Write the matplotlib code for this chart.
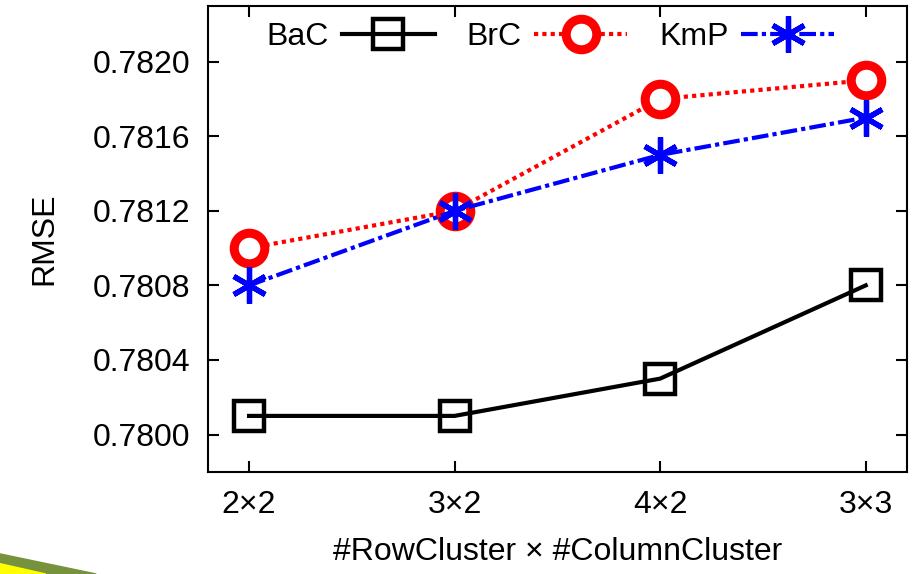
import matplotlib
matplotlib.use("Agg")
import matplotlib.pyplot as plt
from matplotlib.patches import Polygon

plt.rcParams['font.family'] = ['Liberation Sans', 'DejaVu Sans']

categories = ["2\u00d72", "3\u00d72", "4\u00d72", "3\u00d73"]
bac = [0.7801, 0.7801, 0.7803, 0.7808]
brc = [0.7810, 0.7812, 0.7818, 0.7819]
kmp = [0.7808, 0.7812, 0.7815, 0.7817]
yticks = [0.7800, 0.7804, 0.7808, 0.7812, 0.7816, 0.7820]

fig = plt.figure(figsize=(9.16, 5.74), dpi=100)
ax = fig.add_axes([0.227, 0.178, 0.763, 0.812])

x = range(len(categories))
ax.plot(x, bac, color='black', lw=3, ls='-', marker='s', ms=21,
        mfc='none', mec='black', mew=3.2, label='BaC')
ax.plot(x, brc, color='red', lw=3, ls=(0, (1, 1)), marker='o', ms=22,
        mfc='white', mec='red', mew=6.5, label='BrC')
ax.plot(x, kmp, color='blue', lw=3, ls=(0, (4, 1, 1, 1)), marker=(6, 2, 0),
        ms=26, mec='blue', mew=3.8, label='KmP')

ax.set_xlim(-0.2, 3.2)
ax.set_ylim(0.77980, 0.78230)
ax.set_xticks(list(x))
ax.set_xticklabels(categories)
ax.set_yticks(yticks)
ax.set_yticklabels([f"{v:.4f}" for v in yticks])
ax.tick_params(labelsize=23, direction='in', length=8, width=1.5, pad=13,
               top=True, right=True)
for s in ax.spines.values():
    s.set_linewidth(1.5)

ax.set_ylabel("RMSE", fontsize=23, labelpad=24)
ax.set_xlabel("#RowCluster \u00d7 #ColumnCluster", fontsize=23, labelpad=12)

ax.legend(loc='upper center', ncol=3, frameon=False, markerfirst=False,
          fontsize=23, handlelength=2.9, columnspacing=1.0, handletextpad=0.4,
          borderaxespad=0.1, bbox_to_anchor=(0.49, 1.0))

# slide background swoosh in the corner
fig.patches.append(Polygon([[0, 0], [0, 0.035], [0.105, 0]], closed=True,
                           transform=fig.transFigure, color='#76923c', zorder=0))
fig.patches.append(Polygon([[0, 0], [0, 0.018], [0.05, 0]], closed=True,
                           transform=fig.transFigure, color='#ffff00', zorder=1))

fig.savefig("out.png", dpi=100)
